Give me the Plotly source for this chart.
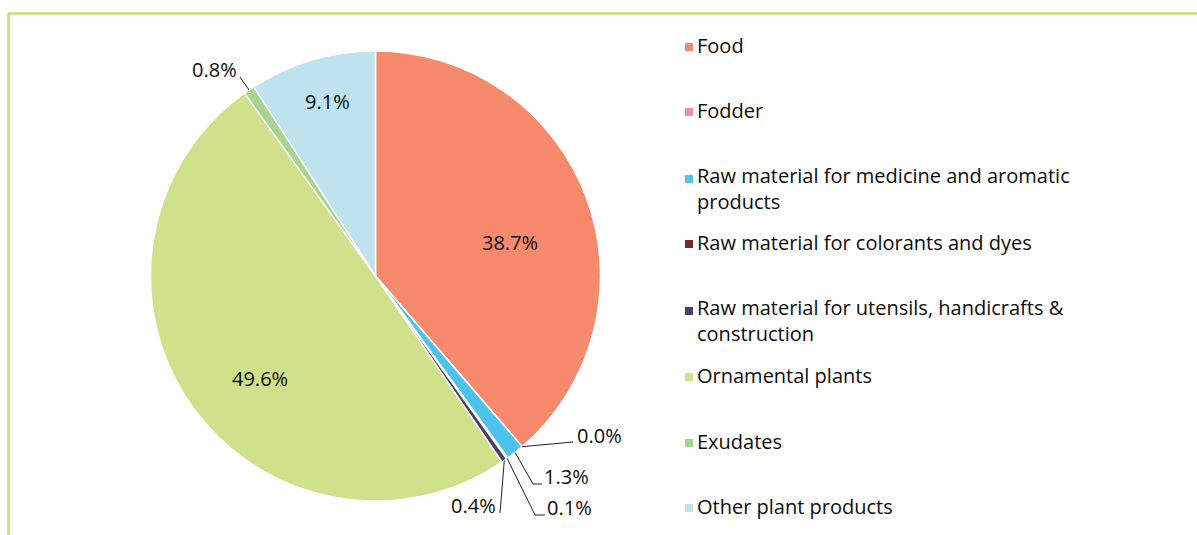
import math
import plotly.graph_objects as go

# Share of plant products by use category (percent)
categories = [
    "Food",
    "Fodder",
    "Raw material for medicine and aromatic products",
    "Raw material for colorants and dyes",
    "Raw material for utensils, handicrafts & construction",
    "Ornamental plants",
    "Exudates",
    "Other plant products",
]
shares = [38.7, 0.0, 1.3, 0.1, 0.4, 49.6, 0.8, 9.1]
colors = ["#F78A6C", "#F08CBA", "#4DC3EC", "#7B2A2A", "#4A3F6B",
          "#D0E18C", "#A6D68E", "#BEE3EF"]

# Legend lines (two-line items are wrapped by hand)
legend_lines = [
    ["Food"],
    ["Fodder"],
    ["Raw material for medicine and aromatic", "products"],
    ["Raw material for colorants and dyes"],
    ["Raw material for utensils, handicrafts &", "construction"],
    ["Ornamental plants"],
    ["Exudates"],
    ["Other plant products"],
]

W, H = 1197, 535
CX, CY, R = 375.5, 276.0, 225.0
FONT = "Open Sans"
TXT = "#0d0d0d"


def px(x):
    return x / W


def py(y):
    return 1 - y / H


fig = go.Figure(go.Pie(
    labels=categories,
    values=shares,
    sort=False,
    direction="clockwise",
    rotation=0,
    marker=dict(colors=colors, line=dict(color="white", width=1.5)),
    textinfo="none",
    hoverinfo="label+percent",
    showlegend=False,
    domain=dict(x=[px(CX - R), px(CX + R)], y=[py(CY + R), py(CY - R)]),
))

total = sum(shares)
cum = [0.0]
for v in shares:
    cum.append(cum[-1] + v)


def edge_point(i):
    """Point on the rim at the middle of slice i (in pixels)."""
    a = math.radians((cum[i] + shares[i] / 2) / total * 360)
    return CX + R * math.sin(a), CY - R * math.cos(a)


def fmt(v):
    return f"{v:.1f}%"


annotations = []
shapes = []
VAL_SIZE = 20
LEG_SIZE = 20
LINE_H = 1.3 * LEG_SIZE  # plotly's line spacing for multi-line text

# Labels placed inside the large slices
inside = {0: (510, 242), 7: (327, 101), 5: (260, 379)}
for i, (x, y) in inside.items():
    annotations.append(dict(
        x=px(x), y=py(y), xref="paper", yref="paper", text=fmt(shares[i]),
        showarrow=False, xanchor="center", yanchor="middle",
        font=dict(family=FONT, size=VAL_SIZE, color=TXT)))

# Labels outside the thin slices, joined by leader lines
outside = {
    1: dict(path=[(573, 442)], text=(575, 435), anchor="left"),
    2: dict(path=[(533, 484), (542, 484)], text=(542, 476), anchor="left"),
    3: dict(path=[(535, 515), (545, 515)], text=(545, 507), anchor="left"),
    4: dict(path=[(500, 513)], text=(498, 505), anchor="right"),
    6: dict(path=[(240, 77)], text=(239, 69), anchor="right"),
}
for i, spec in outside.items():
    x0, y0 = edge_point(i)
    pts = [(x0, y0)] + spec["path"]
    d = "M " + " L ".join(f"{px(x):.5f},{py(y):.5f}" for x, y in pts)
    shapes.append(dict(type="path", path=d, xref="paper", yref="paper",
                       line=dict(color="#222222", width=1)))
    tx, ty = spec["text"]
    annotations.append(dict(
        x=px(tx), y=py(ty), xref="paper", yref="paper", text=fmt(shares[i]),
        showarrow=False, xanchor=spec["anchor"], yanchor="middle",
        font=dict(family=FONT, size=VAL_SIZE, color=TXT)))

# Hand-built legend: colour square plus wrapped text
LEG_X, SQ = 695, 8
first_line_y = [45, 110, 177, 242, 309, 375, 441, 506]
for lines, c, y in zip(legend_lines, colors, first_line_y):
    shapes.append(dict(type="rect", xref="paper", yref="paper",
                       x0=px(685), x1=px(685 + SQ),
                       y0=py(y + 6), y1=py(y + 6 - SQ),
                       fillcolor=c, line=dict(width=0)))
    # centre the block so its lines straddle the 23px wrap of the item
    mid = y + 23 * (len(lines) - 1) / 2
    annotations.append(dict(
        x=px(LEG_X), y=py(mid), xref="paper", yref="paper",
        text="<br>".join(lines), showarrow=False, align="left",
        xanchor="left", yanchor="middle",
        font=dict(family=FONT, size=LEG_SIZE, color=TXT)))

# Frame lines along the top and left edges
FRAME = "#CADD6C"
shapes.append(dict(type="line", xref="paper", yref="paper",
                   x0=px(8), x1=1, y0=py(13.5), y1=py(13.5),
                   line=dict(color=FRAME, width=2.5)))
shapes.append(dict(type="line", xref="paper", yref="paper",
                   x0=px(8.5), x1=px(8.5), y0=py(13), y1=0,
                   line=dict(color=FRAME, width=2.5)))

fig.update_layout(
    width=W, height=H,
    margin=dict(l=0, r=0, t=0, b=0),
    paper_bgcolor="white",
    plot_bgcolor="white",
    annotations=annotations,
    shapes=shapes,
    font=dict(family=FONT),
)

fig.write_html("out.html")
